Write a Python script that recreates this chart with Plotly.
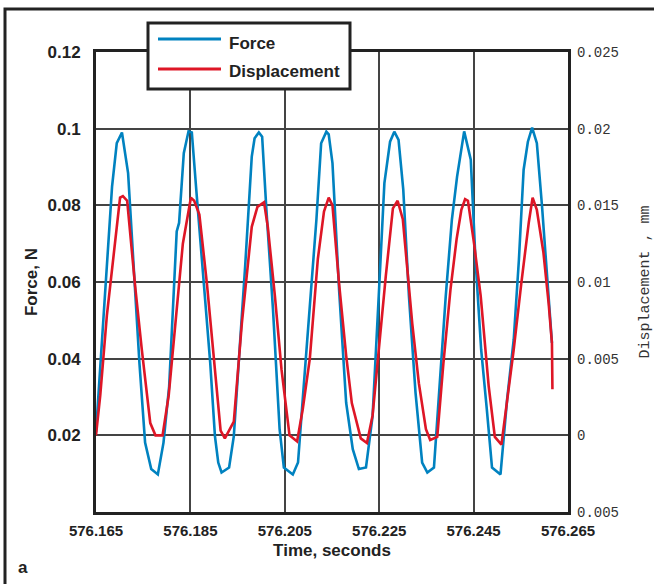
import plotly.graph_objects as go

# ---- data ----
force_time = [576.1650, 576.1659, 576.1671, 576.1684, 576.1694, 576.1705, 576.1718, 576.1730,
              576.1742, 576.1754, 576.1767, 576.1781, 576.1793, 576.1805, 576.1821, 576.1826,
              576.1836, 576.1846, 576.1853, 576.1863, 576.1877, 576.1892, 576.1902, 576.1909,
              576.1916, 576.1932, 576.1942, 576.1955, 576.1966, 576.1980, 576.1986, 576.1995,
              576.2002, 576.2011, 576.2025, 576.2039, 576.2048, 576.2067, 576.2078, 576.2089,
              576.2103, 576.2117, 576.2127, 576.2138, 576.2143, 576.2151, 576.2165, 576.2180,
              576.2194, 576.2207, 576.2222, 576.2236, 576.2249, 576.2261, 576.2273, 576.2282,
              576.2291, 576.2301, 576.2313, 576.2327, 576.2341, 576.2352, 576.2366, 576.2377,
              576.2391, 576.2404, 576.2415, 576.2430, 576.2444, 576.2454, 576.2466, 576.2478,
              576.2489, 576.2507, 576.2521, 576.2535, 576.2546, 576.2556, 576.2565, 576.2574,
              576.2584, 576.2595, 576.2605, 576.2616]
force_N = [0.0208, 0.0372, 0.0615, 0.0849, 0.0962, 0.0990, 0.0884, 0.0641,
           0.0389, 0.0181, 0.0112, 0.0098, 0.0181, 0.0328, 0.0732, 0.0754,
           0.0936, 0.0993, 0.0990, 0.0832, 0.0615, 0.0389, 0.0198, 0.0129,
           0.0103, 0.0116, 0.0198, 0.0424, 0.0641, 0.0927, 0.0975, 0.0990,
           0.0979, 0.0789, 0.0528, 0.0216, 0.0116, 0.0098, 0.0129, 0.0311,
           0.0528, 0.0763, 0.0962, 0.0992, 0.0985, 0.0910, 0.0580, 0.0285,
           0.0164, 0.0112, 0.0116, 0.0250, 0.0563, 0.0858, 0.0966, 0.0992,
           0.0971, 0.0841, 0.0563, 0.0311, 0.0129, 0.0103, 0.0116, 0.0311,
           0.0563, 0.0763, 0.0875, 0.0993, 0.0919, 0.0658, 0.0424, 0.0268,
           0.0116, 0.0098, 0.0294, 0.0450, 0.0658, 0.0893, 0.0966, 0.1003,
           0.0962, 0.0797, 0.0632, 0.0441]

disp_time = [576.1650, 576.1659, 576.1673, 576.1691, 576.1701, 576.1707, 576.1716, 576.1733,
             576.1747, 576.1765, 576.1776, 576.1791, 576.1804, 576.1834, 576.1851, 576.1858,
             576.1869, 576.1885, 576.1899, 576.1914, 576.1923, 576.1942, 576.1959, 576.1980,
             576.1992, 576.2006, 576.2014, 576.2029, 576.2043, 576.2060, 576.2076, 576.2088,
             576.2103, 576.2120, 576.2133, 576.2143, 576.2151, 576.2165, 576.2180, 576.2192,
             576.2211, 576.2224, 576.2236, 576.2250, 576.2264, 576.2279, 576.2289, 576.2300,
             576.2320, 576.2334, 576.2349, 576.2358, 576.2373, 576.2386, 576.2401, 576.2414,
             576.2424, 576.2432, 576.2438, 576.2451, 576.2465, 576.2482, 576.2495, 576.2509,
             576.2521, 576.2535, 576.2551, 576.2567, 576.2575, 576.2584, 576.2598, 576.2609,
             576.2616, 576.2617]
disp_mm = [0.0000, 0.0026, 0.0078, 0.0130, 0.0155, 0.0156, 0.0153, 0.0097,
           0.0056, 0.0008, 0.0000, 0.0000, 0.0026, 0.0125, 0.0155, 0.0153,
           0.0144, 0.0099, 0.0052, 0.0003, -0.0002, 0.0009, 0.0073, 0.0136,
           0.0149, 0.0152, 0.0136, 0.0091, 0.0043, 0.0000, -0.0004, 0.0017,
           0.0050, 0.0115, 0.0146, 0.0155, 0.0150, 0.0099, 0.0052, 0.0021,
           -0.0002, -0.0005, 0.0013, 0.0060, 0.0104, 0.0148, 0.0153, 0.0141,
           0.0073, 0.0034, 0.0004, -0.0003, -0.0001, 0.0047, 0.0095, 0.0128,
           0.0147, 0.0154, 0.0153, 0.0125, 0.0091, 0.0032, -0.0001, -0.0006,
           0.0021, 0.0056, 0.0099, 0.0139, 0.0155, 0.0147, 0.0119, 0.0086,
           0.0060, 0.0030]

x_ticks = [576.165, 576.185, 576.205, 576.225, 576.245, 576.265]
x_tick_text = ["576.165", "576.185", "576.205", "576.225", "576.245", "576.265"]
force_ticks = [0.02, 0.04, 0.06, 0.08, 0.1, 0.12]
force_tick_text = ["0.02", "0.04", "0.06", "0.08", "0.1", "0.12"]
disp_ticks = [-0.005, 0, 0.005, 0.01, 0.015, 0.02, 0.025]
disp_tick_text = ["0.005", "0", "0.005", "0.01", "0.015", "0.02", "0.025"]

BLUE = "rgb(0,130,192)"
RED = "rgb(222,22,38)"
BOLD = "Liberation Sans, Arial, sans-serif"
MONO = "Liberation Mono, DejaVu Sans Mono, monospace"

W, H = 654, 584
L, R, T, B = 96, 568, 52, 512


def px(x):
    return (x - L) / (R - L)


def py(y):
    return (B - y) / (B - T)


fig = go.Figure()
fig.add_trace(go.Scatter(x=force_time, y=force_N, mode="lines", name="Force",
                         line=dict(color=BLUE, width=2.6), showlegend=False))
fig.add_trace(go.Scatter(x=disp_time, y=disp_mm, mode="lines", name="Displacement",
                         yaxis="y2", line=dict(color=RED, width=2.6), showlegend=False))

fig.update_layout(
    width=W, height=H,
    margin=dict(l=L, r=W - R, t=T, b=H - B),
    paper_bgcolor="white", plot_bgcolor="white",
    xaxis=dict(range=[576.165, 576.265], tickvals=x_ticks, ticktext=x_tick_text,
               automargin=False,
               showgrid=True, gridcolor="#444", gridwidth=1.5,
               showline=True, linecolor="#222", linewidth=3, mirror=True,
               zeroline=False, ticks="", ticklabelstandoff=3,
               tickfont=dict(family=BOLD, size=15, color="#222", weight="bold"),
               title=dict(text="<b>Time, seconds</b>", standoff=7,
                          font=dict(family=BOLD, size=17, color="#222"))),
    yaxis=dict(range=[0, 0.12], tickvals=force_ticks, ticktext=force_tick_text,
               automargin=False,
               showgrid=True, gridcolor="#444", gridwidth=1.5,
               showline=True, linecolor="#222", linewidth=3, mirror=True,
               zeroline=False, ticks="", ticklabelstandoff=9,
               tickfont=dict(family=BOLD, size=17, color="#222", weight="bold"),
               title=dict(text="<b>Force, N</b>", standoff=6,
                          font=dict(family=BOLD, size=17, color="#222"))),
    yaxis2=dict(range=[-0.005, 0.025], tickvals=disp_ticks, ticktext=disp_tick_text,
                automargin=False,
                overlaying="y", side="right", showgrid=False, zeroline=False,
                showline=False, ticks="", ticklabelstandoff=8,
                tickfont=dict(family=MONO, size=14, color="#333"),
                title=dict(text="Displacement , mm", standoff=21,
                           font=dict(family=MONO, size=15, color="#333"))),
)

# outer frame
fig.add_shape(type="rect", xref="paper", yref="paper",
              x0=px(5), x1=px(700), y0=py(640), y1=py(9),
              line=dict(color="#222", width=3), fillcolor="rgba(0,0,0,0)", layer="above")

# legend box (drawn manually)
fig.add_shape(type="rect", xref="paper", yref="paper",
              x0=px(148), x1=px(350), y0=py(89), y1=py(23),
              line=dict(color="#222", width=3), fillcolor="white", layer="above")
fig.add_shape(type="line", xref="paper", yref="paper",
              x0=px(158), x1=px(221), y0=py(39), y1=py(39),
              line=dict(color=BLUE, width=3), layer="above")
fig.add_shape(type="line", xref="paper", yref="paper",
              x0=px(158), x1=px(221), y0=py(69), y1=py(69),
              line=dict(color=RED, width=3), layer="above")
fig.add_annotation(xref="paper", yref="paper", x=px(227), y=py(43), text="<b>Force</b>",
                   showarrow=False, xanchor="left", yanchor="middle",
                   font=dict(family=BOLD, size=17, color="#222"))
fig.add_annotation(xref="paper", yref="paper", x=px(227), y=py(71), text="<b>Displacement</b>",
                   showarrow=False, xanchor="left", yanchor="middle",
                   font=dict(family=BOLD, size=17, color="#222"))

# panel label
fig.add_annotation(xref="paper", yref="paper", x=px(16), y=py(567), text="<b>a</b>",
                   showarrow=False, xanchor="left", yanchor="middle",
                   font=dict(family=BOLD, size=17, color="#222"))

fig.write_html("out.html")
